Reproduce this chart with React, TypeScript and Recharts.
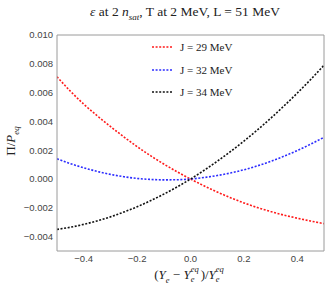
import { LineChart, Line, XAxis, YAxis, Legend } from 'recharts';

// x = (Ye - Ye_eq) / Ye_eq
const xs = [
  -0.5, -0.45, -0.4, -0.35, -0.3, -0.25, -0.2, -0.15, -0.1, -0.05, 0,
  0.05, 0.1, 0.15, 0.2, 0.25, 0.3, 0.35, 0.4, 0.45, 0.5,
];

// Pi / P_eq for each symmetry energy J
const j29 = [
  0.0071, 0.0061, 0.0052, 0.0044, 0.00365, 0.00293, 0.00225, 0.00162, 0.00104, 0.0005, 0,
  -0.00047, -0.0009, -0.0013, -0.00166, -0.00198, -0.00226, -0.00251, -0.00272, -0.00292, -0.0031,
];
const j32 = [
  0.0014, 0.00107, 0.00078, 0.00053, 0.00032, 0.00016, 0.00004, -0.00003, -0.00006, -0.00005, 0,
  0.0001, 0.00024, 0.00042, 0.00064, 0.00091, 0.00122, 0.00158, 0.00198, 0.00242, 0.0029,
];
const j34 = [
  -0.0035, -0.00335, -0.00315, -0.00291, -0.00263, -0.0023, -0.00193, -0.00151, -0.00105, -0.00055, 0,
  0.00059, 0.00123, 0.00191, 0.00263, 0.0034, 0.00421, 0.00507, 0.00597, 0.00691, 0.0079,
];

const xTicks = [-0.4, -0.2, 0, 0.2, 0.4];
const yTicks = [-0.004, -0.002, 0, 0.002, 0.004, 0.006, 0.008, 0.01];
const xMinor = Array.from({ length: 21 }, (_, i) => -0.5 + i * 0.05);
const yMinor = Array.from({ length: 31 }, (_, i) => -0.005 + i * 0.0005);

const series = [
  { key: 'j29', name: 'J = 29 MeV', color: '#ff1a1a' },
  { key: 'j32', name: 'J = 32 MeV', color: '#2b2bff' },
  { key: 'j34', name: 'J = 34 MeV', color: '#111111' },
];

const data = xs.map((x, i) => ({ x, j29: j29[i], j32: j32[i], j34: j34[i] }));

const frame = '#9a9a9a';
const tickFont = { fontSize: 9.5, fill: '#444', fontFamily: 'Liberation Sans, Arial, sans-serif' };
const serif = '"Liberation Serif", "Times New Roman", serif';
const thin = 0.01; // mirrored axes take (almost) no room

const fmtX = (v: number) => {
  const s = v.toFixed(1);
  return v < 0 ? '\u2212' + s.slice(1) : s;
};
const fmtY = (v: number) => {
  const s = v.toFixed(3);
  return v < 0 ? '\u2212' + s.slice(1) : s;
};

const LegendBox = () => (
  <div style={{ fontFamily: serif, fontSize: 11, color: '#222' }}>
    {series.map((s) => (
      <div key={s.key} style={{ display: 'flex', alignItems: 'center', height: 22.5 }}>
        <svg width={20} height={4} style={{ marginRight: 8 }}>
          <line x1={0} y1={2} x2={20} y2={2} stroke={s.color} strokeWidth={1.6} strokeDasharray="2 1.6" />
        </svg>
        <span>{s.name}</span>
      </div>
    ))}
  </div>
);

const EqScript = () => (
  <span style={{ position: 'relative', display: 'inline-block', width: 10, height: 10, fontSize: 8.5, fontStyle: 'italic' }}>
    <span style={{ position: 'absolute', left: 0, top: -5 }}>eq</span>
    <span style={{ position: 'absolute', left: 0, top: 5 }}>e</span>
  </span>
);

export default function App() {
  return (
    <div style={{ position: 'absolute', left: 0, top: 0, width: 327, height: 289, background: '#fff' }}>
      <LineChart
        width={327}
        height={289}
        data={data}
        margin={{ top: 35, right: 3, bottom: 18, left: 0 }}
      >
        {/* labelled frame */}
        <XAxis
          xAxisId="x"
          dataKey="x"
          type="number"
          domain={[-0.5, 0.5]}
          ticks={xTicks}
          tickFormatter={fmtX}
          tickLine={false}
          tickSize={0}
          tickMargin={4}
          height={20}
          axisLine={{ stroke: frame }}
          tick={tickFont}
          allowDataOverflow
        />
        <YAxis
          yAxisId="y"
          type="number"
          domain={[-0.005, 0.01]}
          ticks={yTicks}
          tickFormatter={fmtY}
          tickLine={false}
          tickSize={0}
          tickMargin={4}
          width={57}
          axisLine={{ stroke: frame }}
          tick={tickFont}
          allowDataOverflow
        />

        {/* inward ticks, Mathematica-style frame */}
        <XAxis xAxisId="xb" type="number" domain={[-0.5, 0.5]} ticks={xTicks} orientation="bottom" mirror height={thin} tick={false} tickSize={4} axisLine={false} tickLine={{ stroke: frame }} />
        <XAxis xAxisId="xbm" type="number" domain={[-0.5, 0.5]} ticks={xMinor} orientation="bottom" mirror height={thin} tick={false} tickSize={2} axisLine={false} tickLine={{ stroke: frame }} />
        <XAxis xAxisId="xt" type="number" domain={[-0.5, 0.5]} ticks={xTicks} orientation="top" mirror height={thin} tick={false} tickSize={4} axisLine={{ stroke: frame }} tickLine={{ stroke: frame }} />
        <XAxis xAxisId="xtm" type="number" domain={[-0.5, 0.5]} ticks={xMinor} orientation="top" mirror height={thin} tick={false} tickSize={2} axisLine={false} tickLine={{ stroke: frame }} />
        <YAxis yAxisId="yl" type="number" domain={[-0.005, 0.01]} ticks={yTicks} orientation="left" mirror width={thin} tick={false} tickSize={4} axisLine={false} tickLine={{ stroke: frame }} />
        <YAxis yAxisId="ylm" type="number" domain={[-0.005, 0.01]} ticks={yMinor} orientation="left" mirror width={thin} tick={false} tickSize={2} axisLine={false} tickLine={{ stroke: frame }} />
        <YAxis yAxisId="yr" type="number" domain={[-0.005, 0.01]} ticks={yTicks} orientation="right" mirror width={thin} tick={false} tickSize={4} axisLine={{ stroke: frame }} tickLine={{ stroke: frame }} />
        <YAxis yAxisId="yrm" type="number" domain={[-0.005, 0.01]} ticks={yMinor} orientation="right" mirror width={thin} tick={false} tickSize={2} axisLine={false} tickLine={{ stroke: frame }} />

        {series.map((s) => (
          <Line
            key={s.key}
            xAxisId="x"
            yAxisId="y"
            dataKey={s.key}
            name={s.name}
            type="monotone"
            stroke={s.color}
            strokeWidth={1.6}
            strokeDasharray="2 1.6"
            dot={false}
            isAnimationActive={false}
          />
        ))}

        <Legend
          layout="vertical"
          verticalAlign="middle"
          align="center"
          wrapperStyle={{ top: 36, left: 152, width: 120 }}
          content={() => <LegendBox />}
        />
      </LineChart>

      {/* title */}
      <div
        style={{
          position: 'absolute', left: 0, width: 370, top: 4, textAlign: 'center',
          fontFamily: serif, fontSize: 13.5, color: '#222', whiteSpace: 'nowrap',
        }}
      >
        <i>ε</i> at 2 <i>n</i><sub style={{ fontSize: 9, fontStyle: 'italic' }}>sat</sub>, T at 2 MeV, L = 51 MeV
      </div>

      {/* y label */}
      <div style={{ position: 'absolute', left: 12, top: 141, width: 0, height: 0 }}>
        <div
          style={{
            position: 'absolute', transform: 'translate(-50%, -50%) rotate(-90deg)',
            fontFamily: serif, fontSize: 13, color: '#222', whiteSpace: 'nowrap',
          }}
        >
          Π/<i>P</i><sub style={{ fontSize: 9, fontStyle: 'italic' }}>eq</sub>
        </div>
      </div>

      {/* x label */}
      <div style={{ position: 'absolute', left: 190, top: 267, width: 0 }}>
        <div
          style={{
            position: 'absolute', transform: 'translateX(-50%)',
            fontFamily: serif, fontSize: 13, color: '#222', whiteSpace: 'nowrap',
          }}
        >
          (<i>Y</i><sub style={{ fontSize: 8.5, fontStyle: 'italic' }}>e</sub> − <i>Y</i><EqScript />)/<i>Y</i><EqScript />
        </div>
      </div>
    </div>
  );
}
